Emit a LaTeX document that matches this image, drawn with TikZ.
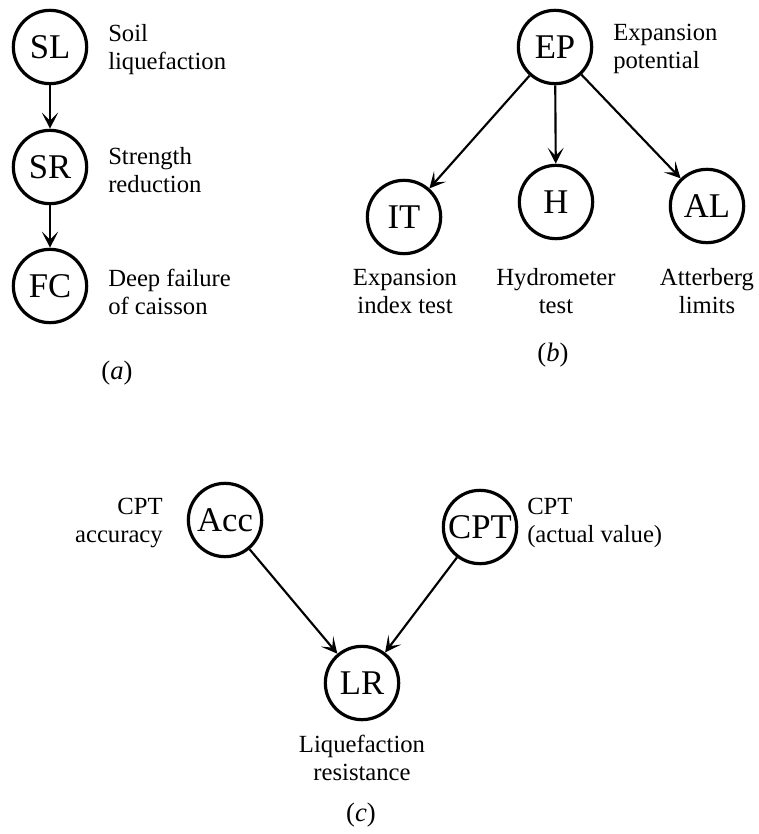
\documentclass[tikz,border=0pt]{standalone}
\usepackage{fontspec}
\setmainfont{Liberation Serif}
\usetikzlibrary{arrows.meta}
\begin{document}
\begin{tikzpicture}[x=0.75pt, y=-0.75pt, >={Stealth[length=12pt, width=12pt, inset=6pt]},
      var/.style={draw, circle, line width=2.4pt, minimum size=55pt, inner sep=0pt, text height=17.2pt, text depth=0pt, font=\fontsize{26}{28}\selectfont},
      lbl/.style={align=left, inner sep=0pt, font=\fontsize{18.5}{21}\selectfont},
      rlbl/.style={align=right, inner sep=0pt, font=\fontsize{18.5}{21}\selectfont},
      clbl/.style={align=center, inner sep=0pt, font=\fontsize{18.5}{21}\selectfont},
      subcap/.style={inner sep=0pt, font=\fontsize{20}{22}\selectfont},
      link/.style={->, line width=1.6pt}]
    \useasboundingbox (0,0) rectangle (758,834);
    % (a)
    \node[var] (SL) at (50,47) {SL};
    \node[var] (SR) at (50,167) {SR};
    \node[var] (FC) at (50,286) {FC};
    \node[lbl, anchor=west] (SLt) at (108,50) {Soil\\ liquefaction};
    \node[lbl, anchor=west] (SRt) at (108,170) {Strength\\ reduction};
    \node[lbl, anchor=west] (FCt) at (108,292) {Deep failure\\ of caisson};
    \draw[link] (SL) -- (SR);
    \draw[link] (SR) -- (FC);
    \node[subcap] (capa) at (117,373) {(\textit{a})};
    % (b)
    \node[var] (EP) at (555,47) {EP};
    \node[var] (IT) at (404,217) {IT};
    \node[var] (H) at (556,202) {H};
    \node[var] (AL) at (707,206) {AL};
    \node[lbl, anchor=west] (EPt) at (613,49) {Expansion\\ potential};
    \node[clbl] (ITt) at (405,291) {Expansion\\ index test};
    \node[clbl] (Ht) at (556,291) {Hydrometer\\ test};
    \node[clbl] (ALt) at (707,291) {Atterberg\\ limits};
    \draw[link] (EP) -- (IT);
    \draw[link] (EP) -- (H);
    \draw[link] (EP) -- (AL);
    \node[subcap] (capb) at (553,355) {(\textit{b})};
    % (c)
    \node[var] (Acc) at (225,520) {Acc};
    \node[var] (CPT) at (480,527) {CPT};
    \node[var] (LR) at (362,683) {LR};
    \node[rlbl, anchor=east] (Acct) at (163,523) {CPT\\ accuracy};
    \node[lbl, anchor=west] (CPTt) at (527,523) {CPT\\ (actual value)};
    \node[clbl] (LRt) at (362,758) {Liquefaction\\ resistance};
    \draw[link] (Acc) -- (LR);
    \draw[link] (CPT) -- (LR);
    \node[subcap] (capc) at (361,815) {(\textit{c})};
\end{tikzpicture}
\end{document}
